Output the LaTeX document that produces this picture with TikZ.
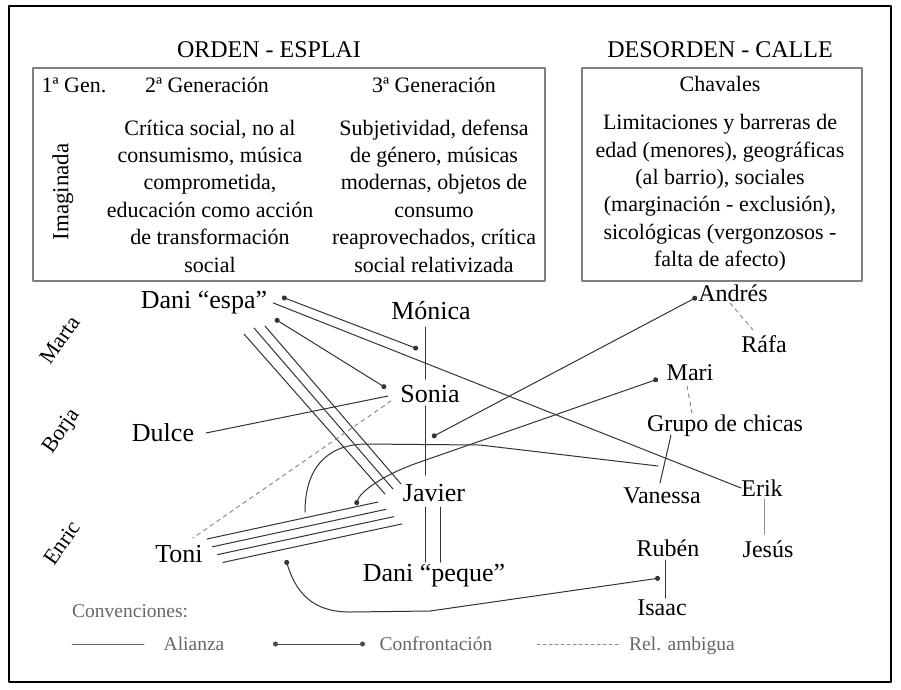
\documentclass[tikz,border=0pt]{standalone}
\usepackage{fontspec}
\setmainfont{Liberation Serif}
\usetikzlibrary{arrows.meta}
\begin{document}
\begin{tikzpicture}[x=1pt, y=-1pt, line join=round, line cap=round,
	every node/.style={inner sep=0pt},
	box/.style={draw=black!50, line width=1.5pt},
	boxtext/.style={font=\fontsize{22}{27.4}\selectfont, align=center},
	title/.style={font=\fontsize{24}{28}\selectfont},
	lname/.style={font=\fontsize{26}{30}\selectfont},
	rname/.style={font=\fontsize{24}{28}\selectfont},
	tilted/.style={font=\fontsize{22}{26}\selectfont, rotate=55},
	legend/.style={font=\fontsize{19.5}{24}\selectfont, text=black!60, anchor=base},
	ally/.style={line width=1pt, draw=black!80},
	confront/.style={ally, {Circle[length=5pt]}-{Circle[length=5pt]}},
	ambig/.style={line width=1pt, draw=black!45, dash pattern=on 4pt off 4pt}]
	\useasboundingbox (0,0) rectangle (901,689);
	\draw[line width=1.8pt] (9,6) rectangle (891,682);
	
	\node[title] (orden) at (269,50) {ORDEN - ESPLAI};
	\node[title] (desorden) at (720,50) {DESORDEN - CALLE};
	\draw[box] (33,68) rectangle (545,281);
	\draw[box] (582,68) rectangle (862,281);
	\node[boxtext] (gen1) at (74,85) {1ª Gen.};
	\node[boxtext] (gen2) at (207,85) {2ª Generación};
	\node[boxtext] (gen3) at (434,85) {3ª Generación};
	\node[boxtext] (chav) at (720,84) {Chavales};
	\node[boxtext, rotate=90, font=\fontsize{23}{27}\selectfont] (imag) at (63,192) {Imaginada};
	\node[boxtext] (txt2) at (210,196) {Crítica social, no al\\consumismo, música\\comprometida,\\educación como acción\\de transformación\\social};
	\node[boxtext] (txt3) at (434,196) {Subjetividad, defensa\\de género, músicas\\modernas, objetos de\\consumo\\reaprovechados, crítica\\social relativizada};
	\node[boxtext] (txtc) at (720,193) {Limitaciones y barreras de\\edad (menores), geográficas\\(al barrio), sociales\\(marginación - exclusión),\\sicológicas (vergonzosos -\\falta de afecto)};
	
	\node[tilted] (marta) at (60,340) {Marta};
	\node[tilted] (borja) at (62,432) {Borja};
	\node[tilted] (enric) at (62,543) {Enric};
	
	\node[lname] (espa) at (204,303) {Dani “espa”};
	\node[lname] (monica) at (431,311) {Mónica};
	\node[lname] (sonia) at (430,394) {Sonia};
	\node[lname] (dulce) at (163,433) {Dulce};
	\node[lname] (javier) at (434,493) {Javier};
	\node[lname] (toni) at (179,554) {Toni};
	\node[lname] (peque) at (434,576) {Dani “peque”};
	\node[rname] (andres) at (733,293) {Andrés};
	\node[rname] (rafa) at (764,344) {Ráfa};
	\node[rname] (mari) at (690,373) {Mari};
	\node[rname] (grupo) at (725,426) {Grupo de chicas};
	\node[rname] (vanessa) at (662,496) {Vanessa};
	\node[rname] (erik) at (762,488) {Erik};
	\node[rname] (ruben) at (668,548) {Rubén};
	\node[rname] (jesus) at (768,549) {Jesús};
	\node[rname] (isaac) at (662,608) {Isaac};
	
	\coordinate (espa-m) at (282,297);
	\coordinate (monica-e) at (418,349);
	\coordinate (espa-s) at (275,319);
	\coordinate (sonia-e) at (386,388);
	\coordinate (espa-j) at (244,334);
	\coordinate (javier-e) at (385,494);
	\coordinate (andres-j) at (697,297);
	\coordinate (javier-a) at (432,437);
	\coordinate (mari-j) at (658,379);
	\coordinate (javier-m) at (356,505);
	\coordinate (toni-i) at (286,560);
	\coordinate (isaac-t) at (660,578);
	\coordinate (toni-j) at (207,539);
	\coordinate (javier-t) at (378,502);
	\coordinate (arc-a) at (305,512);
	\coordinate (arc-b) at (658,466);
	
	\draw[confront] (espa-m) -- (monica-e);
	\draw[ally] ([xshift=6pt]espa.east) -- (erik.west);
	\draw[confront] (espa-s) -- (sonia-e);
	\draw[ally] (espa-j) -- (javier-e);
	\draw[ally] ([shift={(10,-6)}]espa-j) -- ([shift={(8,-5)}]javier-e);
	\draw[ally] ([shift={(21,-8)}]espa-j) -- ([shift={(16,-10)}]javier-e);
	\draw[ally] (425,327) -- (425,379);
	\draw[ally] (425,406) -- (425,475);
	\draw[ally] (425,507) -- (425,562);
	\draw[ally] (440,507) -- (440,562);
	\draw[ally] (206,433) -- (388,396);
	\draw[ambig] (391,401) -- (193,538);
	\draw[confront] (andres-j) -- (javier-a);
	\draw[confront] (mari-j) -- (420,462) .. controls (382,475) and (360,492) .. (javier-m);
	\draw[ally] (arc-a) .. controls (305,470) and (325,445) .. (365,444) -- (480,445) -- (arc-b);
	\foreach \i in {0,...,3}
		\draw[ally] ([shift={(5.3*\i,7.8*\i)}]toni-j) -- ([shift={(8*\i,7.3*\i)}]javier-t);
	\draw[confront] (toni-i) .. controls (298,600) and (320,612) .. (350,612) -- (430,611) -- (isaac-t);
	\draw[ally] (665,560) -- (665,598);
	\draw[ally, draw=black!45] (764,499) -- (764,534);
	\draw[ally] (671,435) -- (660,483);
	\draw[ambig] (687,386) -- (692,413);
	\draw[ambig] (730,303) -- (753,330);
	
	\node[legend, anchor=base west] (conv) at (72,617) {Convenciones:};
	\node[legend] (lalianza) at (194,650) {Alianza};
	\node[legend] (lconf) at (436,650) {Confrontación};
	\node[legend] (lrel) at (682,650) {Rel. ambigua};
	\draw[ally, draw=black!60] (72,644) -- (144,644);
	\draw[confront, draw=black!70] (273,644) -- (365,644);
	\draw[ambig, dash pattern=on 3pt off 3pt] (537,644) -- (618,644);
\end{tikzpicture}
\end{document}
